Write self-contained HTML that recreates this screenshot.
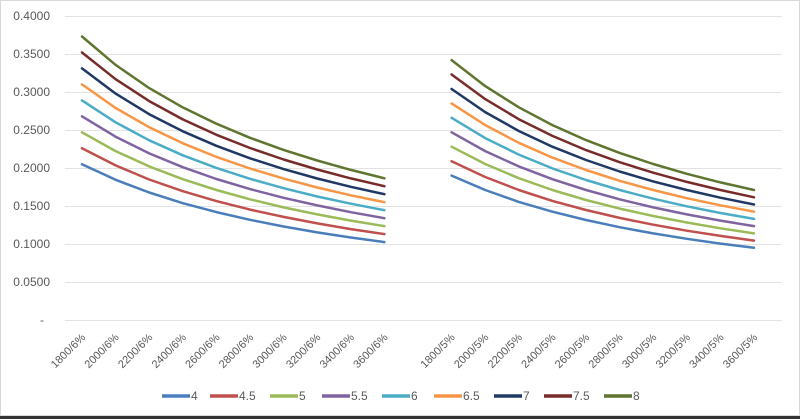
<!DOCTYPE html>
<html><head><meta charset="utf-8"><style>
html,body{margin:0;padding:0;background:#fff;}
svg{display:block;font-family:"Liberation Sans",sans-serif;}
</style></head><body>
<svg id="s" width="800" height="419" viewBox="0 0 800 419" xmlns="http://www.w3.org/2000/svg">
<rect x="0" y="0" width="800" height="419" fill="#fff"/>
<rect x="0.5" y="0.5" width="799" height="415" fill="none" stroke="#d9d9d9"/>
<rect x="0" y="416" width="800" height="3" fill="#333"/>
<g id="grid" stroke="#e3e3e3" stroke-width="1"></g>
<g id="ylab" font-size="12" fill="#595959" text-anchor="end"></g>
<g id="xlab" font-size="11" fill="#595959" text-anchor="end"></g>
<g id="lines" fill="none" stroke-width="2.5" stroke-linecap="round" stroke-linejoin="round"></g>
<g id="leg" font-size="12" fill="#595959"></g>
</svg>
<script>
var NS="http://www.w3.org/2000/svg";
function el(p,t,a,txt){var e=document.createElementNS(NS,t);for(var k in a)e.setAttribute(k,a[k]);if(txt!=null)e.textContent=txt;document.getElementById(p).appendChild(e);return e;}
function Y(v){return 320-v*760;}
var ylabs=["-","0.0500","0.1000","0.1500","0.2000","0.2500","0.3000","0.3500","0.4000"];
for(var i=0;i<=8;i++){var y=Y(i*0.05);el("grid","line",{x1:65,x2:782,y1:y+0.5,y2:y+0.5});el("ylab","text",{x:i==0?44:50,y:y+4},ylabs[i]);}
function X(i){return 82+i*33.6;}
var L=[1800,2000,2200,2400,2600,2800,3000,3200,3400,3600];
for(var i=0;i<10;i++){
 el("xlab","text",{x:X(i)+4,y:338,transform:"rotate(-45 "+(X(i)+4)+" 338)"},L[i]+"/6%");
 el("xlab","text",{x:X(i+11)+4,y:338,transform:"rotate(-45 "+(X(i+11)+4)+" 338)"},L[i]+"/5%");
}
var rates=[4,4.5,5,5.5,6,6.5,7,7.5,8];
var cols=["#4a7ebb","#c0504d","#9bbb59","#8064a2","#4bacc6","#f79646","#1f3864","#772c2a","#5f7530"];
var lx=[162,210,270,322,382,434,494,544,604];
for(var s=0;s<9;s++){
 var r=rates[s];
 [[0,0.205,0.042],[11,0.190,0.038]].forEach(function(o){
  var base=o[1]+o[2]*(r-4);
  var d="";for(var i=0;i<10;i++){var v=base*1800/L[i];d+=(i?"L":"M")+X(i+o[0]).toFixed(1)+","+Y(v).toFixed(1);}
  el("lines","path",{d:d,stroke:cols[s]});
 });
 el("leg","line",{x1:lx[s],x2:lx[s]+28,y1:396,y2:396,stroke:cols[s],"stroke-width":3.5});
 el("leg","text",{x:lx[s]+29,y:400},String(r));
}
</script>
</body></html>
